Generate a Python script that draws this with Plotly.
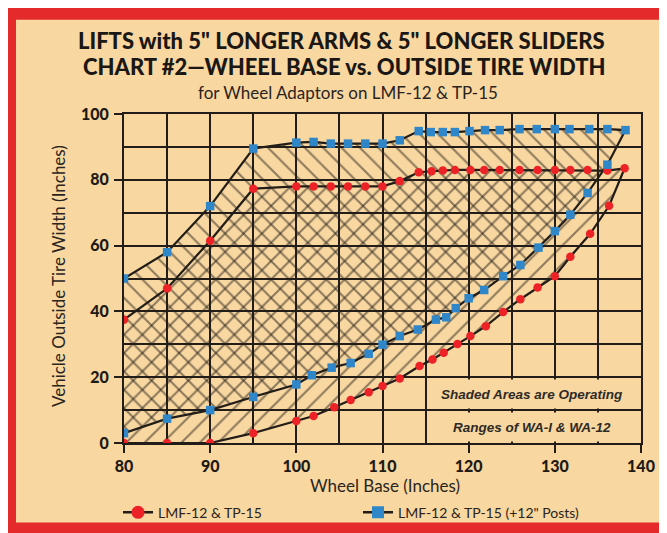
import plotly.graph_objects as go

# ---------------- data ----------------
red_top_x = [80, 85, 90, 95, 100, 102, 104, 106, 108, 110, 112, 114.2, 115.7, 117, 118.4, 120.2,
             121.8, 123.6, 125.9, 128, 130, 131.8, 133.8, 136.1, 138.1]
red_top_y = [37.5, 47, 61.5, 77.3, 78, 78, 78, 78, 78, 78, 79.6, 82.3, 82.6, 82.8, 83, 83,
             83, 83, 83, 83, 83, 83, 83, 82.8, 83.5]
red_bot_x = [80, 85, 90, 95, 100, 102, 104.4, 106.3, 108.4, 110, 112, 114.3, 115.8, 117.1, 118.7,
             120.2, 122, 124, 126, 128, 130, 131.8, 134.1, 136.3]
red_bot_y = [0, 0, 0, 3, 6.7, 8.2, 10.9, 13.1, 15.4, 17.3, 19.6, 23.4, 25.4, 27.4, 30.1,
             32.5, 35.5, 39.8, 43.7, 47.3, 50.7, 56.6, 63.6, 72.1]

blue_top_x = [80, 85, 90, 95, 100, 102, 104, 106, 108, 110, 112, 114.2, 115.6, 117, 118.4, 120.1,
              121.9, 123.6, 125.9, 127.9, 130, 131.7, 134, 136.1, 138.2]
blue_top_y = [50, 58, 72, 89.5, 91.3, 91.5, 91, 91, 91, 91, 92, 94.8, 94.5, 94.5, 94.5, 94.8,
              95.1, 95.1, 95.4, 95.4, 95.4, 95.4, 95.4, 95.4, 95.1]
blue_bot_x = [80, 85, 90, 95, 100, 101.8, 104.1, 106.3, 108.4, 110, 112, 114.1, 116.2, 117.4, 118.5,
              120, 121.8, 124, 126, 128.1, 130, 131.8, 133.8, 136.1]
blue_bot_y = [3, 7.4, 10, 14, 17.8, 20.6, 22.9, 24.3, 27.1, 29.9, 32.5, 34.5, 37.5, 38.2, 41,
              44, 46.5, 50.7, 54.1, 59.4, 64.4, 69.4, 76, 84.6]

x_ticks = [80, 90, 100, 110, 120, 130, 140]
y_ticks = [0, 20, 40, 60, 80, 100]

red_name = "LMF-12 & TP-15"
blue_name = "LMF-12 & TP-15 (+12\" Posts)"

# ---------------- styling ----------------
TAN = "#F8D7A0"
RED_BORDER = "#E42A2A"
RED = "#EC2227"
BLUE = "#2F86C8"
INK = "#221D18"
FONT = "Lato"

W, H = 667, 533
L, R, T, B = 116, 34, 106, 92
PW, PH = W - L - R, H - T - B


def px(xp):
    return (xp - L) / PW


def py(yp):
    return (H - B - yp) / PH


def poly(tx, ty, bx, by):
    return list(tx) + list(reversed(bx)), list(ty) + list(reversed(by))


rx, ry = poly(red_top_x, red_top_y, red_bot_x, red_bot_y)
bx, by = poly(blue_top_x, blue_top_y, blue_bot_x, blue_bot_y)

fig = go.Figure()

# hatched regions
fig.add_trace(go.Scatter(x=rx, y=ry, mode="none", fill="toself", fillcolor="rgba(0,0,0,0)",
                         fillpattern=dict(shape="/", fgcolor=INK, size=13, solidity=0.16),
                         showlegend=False, hoverinfo="skip"))
fig.add_trace(go.Scatter(x=bx, y=by, mode="none", fill="toself", fillcolor="rgba(0,0,0,0)",
                         fillpattern=dict(shape="\\", fgcolor=INK, size=13, solidity=0.16),
                         showlegend=False, hoverinfo="skip"))

# outlines
fig.add_trace(go.Scatter(x=rx, y=ry, mode="lines", showlegend=False,
                         line=dict(color=INK, width=2.2)))
fig.add_trace(go.Scatter(x=bx, y=by, mode="lines", showlegend=False,
                         line=dict(color=INK, width=2.2)))
# markers on top
fig.add_trace(go.Scatter(x=rx, y=ry, mode="markers", showlegend=False,
                         marker=dict(symbol="circle", color=RED, size=8.5)))
fig.add_trace(go.Scatter(x=bx, y=by, mode="markers", showlegend=False,
                         marker=dict(symbol="square", color=BLUE, size=8.5)))
# legend entries
fig.add_trace(go.Scatter(x=[None], y=[None], mode="lines+markers", name=red_name,
                         line=dict(color=INK, width=2.5),
                         marker=dict(symbol="circle", color=RED, size=13)))
fig.add_trace(go.Scatter(x=[None], y=[None], mode="lines+markers", name=blue_name,
                         line=dict(color=INK, width=2.5),
                         marker=dict(symbol="square", color=BLUE, size=12)))

axis_common = dict(showline=True, linecolor=INK, linewidth=2, mirror=True,
                   showgrid=True, gridcolor=INK, gridwidth=2, zeroline=False,
                   ticks="outside", ticklen=8, tickwidth=2, tickcolor=INK,
                   tickfont=dict(family=FONT, size=16, color="#1E1A16", weight=900))

fig.update_xaxes(range=[80, 140], tickvals=x_ticks, ticktext=[str(v) for v in x_ticks],
                 minor=dict(dtick=5, tick0=80, showgrid=True, gridcolor=INK, gridwidth=2,
                            ticks=""),
                 **axis_common)
fig.update_yaxes(range=[0, 100], tickvals=y_ticks, ticktext=[str(v) for v in y_ticks],
                 ticklabelstandoff=2,
                 minor=dict(dtick=10, tick0=0, showgrid=True, gridcolor=INK, gridwidth=2,
                            ticks=""),
                 **axis_common)

annotations = [
    dict(text="LIFTS with 5\" LONGER ARMS &amp; 5\" LONGER SLIDERS",
         x=px(333), y=py(31), font=dict(family=FONT, size=22, color="#1A1714", weight=900)),
    dict(text="CHART #2—WHEEL BASE vs. OUTSIDE TIRE WIDTH",
         x=px(336), y=py(58), font=dict(family=FONT, size=22, color="#1A1714", weight=900)),
    dict(text="for Wheel Adaptors on LMF-12 &amp; TP-15",
         x=px(340), y=py(84), font=dict(family=FONT, size=17, color="#2A241E")),
    dict(text="Vehicle Outside Tire Width (Inches)", textangle=-90,
         x=px(50), y=py(271), font=dict(family=FONT, size=17, color="#2A241E")),
    dict(text="Wheel Base (Inches)",
         x=px(377), y=py(484), font=dict(family=FONT, size=17, color="#2A241E")),
]
for a in annotations:
    a.update(xref="paper", yref="paper", showarrow=False, xanchor="center", yanchor="middle")

for txt, yv in [("Shaded Areas are Operating", 15), ("Ranges of WA-I &amp; WA-12", 5)]:
    annotations.append(dict(text=f"<b><i>{txt}</i></b>", x=127.4, y=yv, xref="x", yref="y",
                            showarrow=False, bgcolor=TAN, width=200, height=26,
                            font=dict(family="Liberation Sans", size=13.5, color="#2E2A26")))

shapes = [dict(type="rect", xref="paper", yref="paper", layer="below",
               x0=px(8), x1=px(655), y0=py(522), y1=py(10),
               fillcolor=TAN, line=dict(width=0))]

fig.update_layout(
    width=W, height=H, autosize=False,
    margin=dict(l=L, r=R, t=T, b=B, pad=0),
    paper_bgcolor=RED_BORDER, plot_bgcolor=TAN,
    annotations=annotations, shapes=shapes,
    legend=dict(orientation="h", x=px(110), y=py(512), xanchor="left", yanchor="middle",
                bgcolor="rgba(0,0,0,0)", entrywidth=195, entrywidthmode="pixels",
                font=dict(family=FONT, size=14, color="#2A241E")),
)

fig.write_html("out.html")
